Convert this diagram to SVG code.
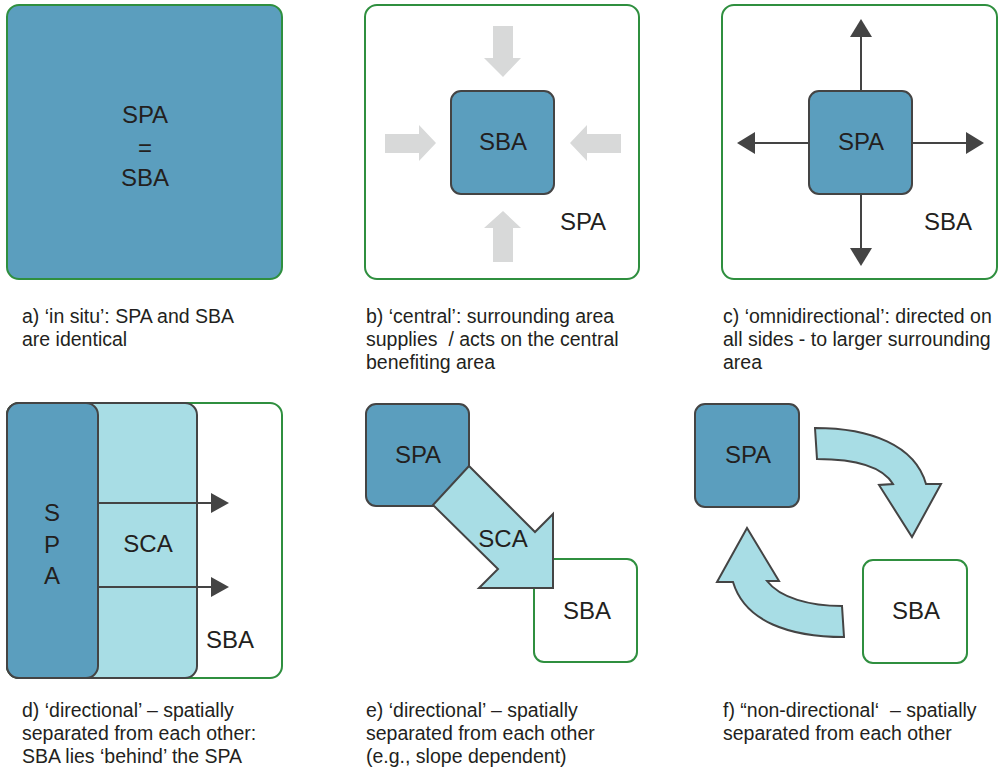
<svg xmlns="http://www.w3.org/2000/svg" width="1000" height="769" viewBox="0 0 1000 769">
<style>
.frame{fill:#fff;stroke:#2f8f3f;stroke-width:2}
.spa{fill:#5b9ebe;stroke:#444;stroke-width:2}
.sca{fill:#a8dde5;stroke:#444;stroke-width:2}
.gray{fill:#d8d9d9}
.lbl{font-family:"Liberation Sans",Arial,sans-serif;font-size:24px;fill:#231f20;text-anchor:middle}
.cap{font-family:"Liberation Sans",Arial,sans-serif;font-size:19.5px;fill:#231f20;white-space:pre}
.ln{stroke:#444;stroke-width:2;fill:none}
.hd{fill:#444}
</style>

<!-- a -->
<g id="a">
<rect x="7" y="5" width="275" height="274" rx="12" fill="#5b9ebe" stroke="#2f8f3f" stroke-width="2"/>
<text class="lbl" x="145" y="123">SPA</text>
<text class="lbl" x="145" y="156">=</text>
<text class="lbl" x="145" y="186">SBA</text>
</g>

<!-- b -->
<g id="b">
<rect class="frame" x="365" y="5" width="274" height="274" rx="12"/>
<polygon class="gray" points="493,26 513,26 513,58 521,58 503,77 484,58 493,58"/>
<polygon class="gray" points="493,262 513,262 513,228 521,228 503,211 484,228 493,228"/>
<polygon class="gray" points="385,134 419,134 419,125 436,143 419,161 419,153 385,153"/>
<polygon class="gray" points="621,134 587,134 587,125 570,143 587,161 587,153 621,153"/>
<rect class="spa" x="451" y="91" width="103" height="103" rx="10"/>
<text class="lbl" x="503" y="150">SBA</text>
<text class="lbl" x="583" y="230">SPA</text>
</g>

<!-- c -->
<g id="c">
<rect class="frame" x="722" y="5" width="275" height="274" rx="12"/>
<g id="c-arrows">
<line class="ln" x1="861" y1="37" x2="861" y2="91"/>
<polygon class="hd" points="861,19 872,37 850,37"/>
<line class="ln" x1="861" y1="194" x2="861" y2="248"/>
<polygon class="hd" points="861,266 872,248 850,248"/>
<line class="ln" x1="755" y1="143" x2="809" y2="143"/>
<polygon class="hd" points="737,143 755,132 755,154"/>
<line class="ln" x1="912" y1="143" x2="966" y2="143"/>
<polygon class="hd" points="984,143 966,132 966,154"/>
</g>
<rect class="spa" x="809" y="91" width="103" height="103" rx="10"/>
<text class="lbl" x="861" y="150">SPA</text>
<text class="lbl" x="948" y="230">SBA</text>
</g>

<!-- d -->
<g id="d">
<rect class="frame" x="7" y="403" width="275" height="275" rx="12"/>
<rect class="sca" x="7" y="403" width="190" height="275" rx="12"/>
<rect class="spa" x="7" y="403" width="91" height="275" rx="12"/>
<text class="lbl" x="52" y="521">S</text>
<text class="lbl" x="52" y="553">P</text>
<text class="lbl" x="52" y="584">A</text>
<text class="lbl" x="148" y="552">SCA</text>
<text class="lbl" x="230" y="648">SBA</text>
<g id="d-arrows">
<line class="ln" x1="98" y1="503" x2="212" y2="503"/>
<polygon class="hd" points="229,503 211,493 211,513"/>
<line class="ln" x1="98" y1="587" x2="212" y2="587"/>
<polygon class="hd" points="229,587 211,577 211,597"/>
</g>
</g>

<!-- e -->
<g id="e">
<rect class="spa" x="366" y="404" width="103" height="102" rx="10"/>
<rect class="frame" x="534" y="559" width="103" height="103" rx="10"/>
<polygon class="sca" stroke-linejoin="miter" points="469,466 535,532 553,514 553,588 479,588 498,569 433,505"/>
<text class="lbl" x="418" y="463">SPA</text>
<text class="lbl" x="503" y="547">SCA</text>
<text class="lbl" x="587" y="619">SBA</text>
</g>

<!-- f -->
<g id="f">
<rect class="spa" x="695" y="404" width="104" height="103" rx="10"/>
<rect class="frame" x="863" y="560" width="104" height="103" rx="10"/>
<text class="lbl" x="748" y="463">SPA</text>
<text class="lbl" x="916" y="619">SBA</text>
<g id="f-arrows">
<path class="sca" d="M815,428 C870,428 915,445 926,484 L941,484 L912,537 L879,485 L893,484 C882,466 855,459 817,459 Z"/>
<path class="sca" d="M844,637 C790,637 745,622 733,582 L717,582 L747,528 L779,581 L767,581 C780,598 810,606 842,606 Z"/>
</g>
</g>

<!-- captions -->
<g id="captions">
<text class="cap" x="22" y="323">a) ‘in situ’: SPA and SBA</text>
<text class="cap" x="22" y="346">are identical</text>
<text class="cap" x="366" y="323">b) ‘central’: surrounding area</text>
<text class="cap" x="366" y="346">supplies  / acts on the central</text>
<text class="cap" x="366" y="369">benefiting area</text>
<text class="cap" x="723" y="323">c) ‘omnidirectional’: directed on</text>
<text class="cap" x="723" y="346">all sides - to larger surrounding</text>
<text class="cap" x="723" y="369">area</text>
<text class="cap" x="22" y="717">d) ‘directional’ – spatially</text>
<text class="cap" x="22" y="740">separated from each other:</text>
<text class="cap" x="22" y="763">SBA lies ‘behind’ the SPA</text>
<text class="cap" x="366" y="717">e) ‘directional’ – spatially</text>
<text class="cap" x="366" y="740">separated from each other</text>
<text class="cap" x="366" y="763">(e.g., slope dependent)</text>
<text class="cap" x="723" y="717">f) “non-directional‘  – spatially</text>
<text class="cap" x="723" y="740">separated from each other</text>
</g>
</svg>
